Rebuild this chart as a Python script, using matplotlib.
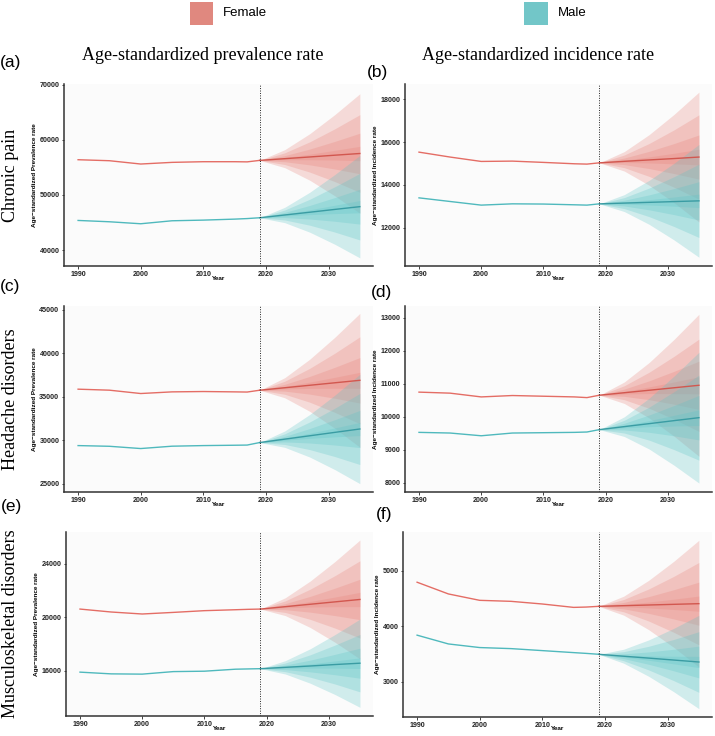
import matplotlib
matplotlib.use("Agg")
import matplotlib.pyplot as plt
from matplotlib.patches import Rectangle

years_hist = [1990, 1995, 2000, 2005, 2010, 2015, 2017, 2019]
years_pred = [2019, 2023, 2027, 2031, 2035]

# (a) chronic pain, prevalence
cp_prev_f = [56370, 56190, 55590, 55890, 56010, 56010, 55980, 56250]
cp_prev_m = [45360, 45120, 44760, 45300, 45420, 45600, 45700, 45850]
cp_prev_f_mean = [56250, 56560, 56870, 57190, 57500]
cp_prev_f_hi = [56250, 58190, 61090, 64550, 68330]
cp_prev_f_lo = [56250, 54930, 52650, 49830, 46670]
cp_prev_m_mean = [45850, 46350, 46850, 47360, 47860]
cp_prev_m_hi = [45850, 47740, 50470, 53680, 57150]
cp_prev_m_lo = [45850, 44960, 43230, 41040, 38570]

# (b) chronic pain, incidence
cp_inc_f = [15530, 15300, 15095, 15110, 15050, 14985, 14970, 15030]
cp_inc_m = [13390, 13220, 13050, 13110, 13100, 13065, 13050, 13110]
cp_inc_f_mean = [15030, 15100, 15165, 15230, 15300]
cp_inc_f_hi = [15030, 15556, 16351, 17297, 18340]
cp_inc_f_lo = [15030, 14644, 13979, 13163, 12260]
cp_inc_m_mean = [13110, 13145, 13180, 13215, 13250]
cp_inc_m_hi = [13110, 13541, 14210, 15010, 15890]
cp_inc_m_lo = [13110, 12749, 12150, 11420, 10610]

# (c) headache disorders, prevalence
hd_prev_f = [35880, 35765, 35380, 35570, 35610, 35570, 35550, 35760]
hd_prev_m = [29390, 29310, 29050, 29320, 29390, 29430, 29450, 29740]
hd_prev_f_mean = [35760, 36045, 36330, 36615, 36900]
hd_prev_f_hi = [35760, 37200, 39330, 41850, 44600]
hd_prev_f_lo = [35760, 34890, 33330, 31380, 29200]
hd_prev_m_mean = [29740, 30130, 30520, 30910, 31300]
hd_prev_m_hi = [29740, 31070, 32970, 35190, 37590]
hd_prev_m_lo = [29740, 29190, 28070, 26630, 25010]

# (d) headache disorders, incidence
hd_inc_f = [10743, 10712, 10598, 10640, 10619, 10598, 10577, 10650]
hd_inc_m = [9525, 9505, 9422, 9505, 9515, 9525, 9536, 9608]
hd_inc_f_mean = [10650, 10725, 10800, 10875, 10950]
hd_inc_f_hi = [10650, 11050, 11640, 12340, 13100]
hd_inc_f_lo = [10650, 10400, 9960, 9410, 8800]
hd_inc_m_mean = [9608, 9699, 9789, 9880, 9970]
hd_inc_m_hi = [9608, 9996, 10560, 11230, 11950]
hd_inc_m_lo = [9608, 9400, 9020, 8530, 7990]

# (e) musculoskeletal disorders, prevalence
msk_prev_f = [20620, 20400, 20250, 20370, 20500, 20570, 20600, 20620]
msk_prev_m = [15890, 15760, 15740, 15930, 15960, 16110, 16130, 16150]
msk_prev_f_mean = [20620, 20800, 20980, 21160, 21340]
msk_prev_f_hi = [20620, 21470, 22720, 24190, 25800]
msk_prev_f_lo = [20620, 20130, 19240, 18130, 16880]
msk_prev_m_mean = [16150, 16250, 16350, 16460, 16560]
msk_prev_m_hi = [16150, 16750, 17640, 18710, 19870]
msk_prev_m_lo = [16150, 15750, 15060, 14210, 13250]

# (f) musculoskeletal disorders, incidence
msk_inc_f = [4796, 4585, 4470, 4452, 4404, 4343, 4349, 4362]
msk_inc_m = [3843, 3685, 3620, 3601, 3565, 3529, 3515, 3499]
msk_inc_f_mean = [4362, 4374, 4386, 4398, 4410]
msk_inc_f_hi = [4362, 4545, 4831, 5173, 5550]
msk_inc_f_lo = [4362, 4203, 3941, 3623, 3270]
msk_inc_m_mean = [3499, 3464, 3430, 3395, 3360]
msk_inc_m_hi = [3499, 3590, 3758, 3966, 4200]
msk_inc_m_lo = [3499, 3338, 3102, 2824, 2520]

xticks = [1990, 2000, 2010, 2020, 2030]
yticks_a = [40000, 50000, 60000, 70000]
yticks_b = [12000, 14000, 16000, 18000]
yticks_c = [25000, 30000, 35000, 40000, 45000]
yticks_d = [8000, 9000, 10000, 11000, 12000, 13000]
yticks_e = [16000, 20000, 24000]
yticks_f = [3000, 4000, 5000]

band_levels = [1.0, 0.65, 0.34, 0.12]

F_LINE, F_PRED, F_FILL, F_KEY = "#e46d65", "#d2574f", "#e8837a", "#e0887f"
M_LINE, M_PRED, M_FILL, M_KEY = "#4fb9bd", "#3a9ca3", "#5cc4c7", "#72c6c8"

W, H = 715, 736
fig = plt.figure(figsize=(W / 100, H / 100), dpi=100)


def box(l, t, r, b):
    return [l / W, 1 - b / H, (r - l) / W, (b - t) / H]


panels = [
    (box(64, 84, 373, 266), (37100, 70100), yticks_a, "Prevalence",
     cp_prev_f, cp_prev_m, cp_prev_f_mean, cp_prev_f_hi, cp_prev_f_lo,
     cp_prev_m_mean, cp_prev_m_hi, cp_prev_m_lo),
    (box(405, 84, 712, 266), (10200, 18720), yticks_b, "Incidence",
     cp_inc_f, cp_inc_m, cp_inc_f_mean, cp_inc_f_hi, cp_inc_f_lo,
     cp_inc_m_mean, cp_inc_m_hi, cp_inc_m_lo),
    (box(64, 306, 373, 492), (24050, 45450), yticks_c, "Prevalence",
     hd_prev_f, hd_prev_m, hd_prev_f_mean, hd_prev_f_hi, hd_prev_f_lo,
     hd_prev_m_mean, hd_prev_m_hi, hd_prev_m_lo),
    (box(405, 306, 712, 492), (7720, 13350), yticks_d, "Incidence",
     hd_inc_f, hd_inc_m, hd_inc_f_mean, hd_inc_f_hi, hd_inc_f_lo,
     hd_inc_m_mean, hd_inc_m_hi, hd_inc_m_lo),
    (box(66, 532, 373, 716), (12600, 26400), yticks_e, "Prevalence",
     msk_prev_f, msk_prev_m, msk_prev_f_mean, msk_prev_f_hi, msk_prev_f_lo,
     msk_prev_m_mean, msk_prev_m_hi, msk_prev_m_lo),
    (box(403, 532, 712, 717), (2370, 5700), yticks_f, "Incidence",
     msk_inc_f, msk_inc_m, msk_inc_f_mean, msk_inc_f_hi, msk_inc_f_lo,
     msk_inc_m_mean, msk_inc_m_hi, msk_inc_m_lo),
]

small = {"family": "Liberation Sans", "size": 4.6, "weight": "bold"}
ticksz = {"family": "Liberation Sans", "size": 5.1, "weight": "bold"}


def fan(ax, mean, hi, lo, color):
    for lev in band_levels:
        up = [m + lev * (h - m) for m, h in zip(mean, hi)]
        dn = [m - lev * (m - l) for m, l in zip(mean, lo)]
        ax.fill_between(years_pred, dn, up, color=color, alpha=0.27, lw=0)


for (pos, ylim, yt, kind, f, m, fm, fh, fl, mm, mh, ml) in panels:
    ax = fig.add_axes(pos)
    ax.set_facecolor("#fbfbfb")
    fan(ax, fm, fh, fl, F_FILL)
    fan(ax, mm, mh, ml, M_FILL)
    ax.plot(years_hist, f, color=F_LINE, lw=1.0)
    ax.plot(years_hist, m, color=M_LINE, lw=1.0)
    ax.plot(years_pred, fm, color=F_PRED, lw=1.0)
    ax.plot(years_pred, mm, color=M_PRED, lw=1.0)
    ax.axvline(2019, color="#222222", ls=(0, (1, 1.5)), lw=0.7)
    ax.set_xlim(1987.75, 2037.1)
    ax.set_ylim(*ylim)
    ax.set_xticks(xticks)
    ax.set_yticks(yt)
    for s in ["top", "right"]:
        ax.spines[s].set_visible(False)
    for s in ["left", "bottom"]:
        ax.spines[s].set_color("#333333")
        ax.spines[s].set_linewidth(1.1)
    ax.tick_params(length=1.8, width=0.6, pad=1.5, colors="#222222")
    for lab in ax.get_xticklabels() + ax.get_yticklabels():
        lab.set_fontproperties(ticksz)
    ax.set_xlabel("Year", fontdict=small, labelpad=-1.5)
    ax.set_ylabel("Age\u2212standardized " + kind + " rate", fontdict=small, labelpad=1.5)

serif = {"family": "Liberation Serif", "size": 13}
fig.text(203 / W, 1 - 55 / H, "Age-standardized prevalence rate", ha="center", va="center", **serif)
fig.text(538 / W, 1 - 55 / H, "Age-standardized incidence rate", ha="center", va="center", **serif)
row_labels = [("Chronic pain", 175), ("Headache disorders", 399), ("Musculoskeletal disorders", 624)]
for txt, yc in row_labels:
    fig.text(11 / W, 1 - yc / H, txt, rotation=90, ha="center", va="center", **serif)

letters = [("(a)", 11, 63), ("(b)", 378, 72), ("(c)", 10, 287),
           ("(d)", 381, 293), ("(e)", 11, 507), ("(f)", 384, 514)]
for txt, x, y in letters:
    fig.text(x / W, 1 - y / H, txt, ha="center", va="center", family="Liberation Sans", size=12.5)

# legend keys
for (x0, x1, col, name) in [(190, 213, F_KEY, "Female"), (524, 548, M_KEY, "Male")]:
    fig.add_artist(Rectangle((x0 / W, 1 - 25 / H), (x1 - x0) / W, 23 / H,
                             transform=fig.transFigure, color=col, lw=0))
    fig.text((x1 + 10) / W, 1 - 13 / H, name, ha="left", va="center",
             family="Liberation Sans", size=9.5)

fig.savefig("out.png", dpi=100)
